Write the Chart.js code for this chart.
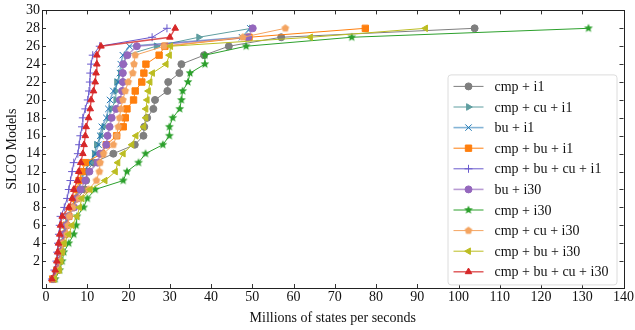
<!DOCTYPE html>
<html>
<head>
<meta charset="utf-8">
<script src="https://cdn.jsdelivr.net/npm/chart.js@4/dist/chart.umd.min.js"></script>
<style>
    html, body { margin: 0; padding: 0; background: #fff; }
    #wrap { width: 635px; height: 330px; }
</style>
</head>
<body>
<div id="wrap"><canvas id="grafico" width="635" height="330"></canvas></div>
<script>
// Modelos (eixo y) e ticks
const modelos = [0, 1, 2, 3, 4, 5, 6, 7, 8, 9, 10, 11, 12, 13, 14, 15, 16, 17, 18, 19, 20, 21, 22, 23, 24, 25, 26, 27, 28];
const yTicks = [2, 4, 6, 8, 10, 12, 14, 16, 18, 20, 22, 24, 26, 28, 30];
const xTicks = [0, 10, 20, 30, 40, 50, 60, 70, 80, 90, 100, 110, 120, 130, 140];

const rotulos = ['cmp + i1', 'cmp + cu + i1', 'bu + i1', 'cmp + bu + i1', 'cmp + bu + cu + i1',
    'bu + i30', 'cmp + i30', 'cmp + cu + i30', 'cmp + bu + i30', 'cmp + bu + cu + i30'];

// Milhões de estados por segundo, um valor por modelo
const cmpI1 = [1.8, 2.8, 3.3, 3.6, 4.0, 4.6, 5.0, 5.5, 6.5, 7.5, 9.4, 9.7, 9.8, 11.5, 16.3, 21.5, 23.6, 23.8, 24.5, 26.0, 26.4, 29.4, 29.6, 32.3, 32.8, 38.3, 44.3, 57.0, 103.9];
const cmpCuI1 = [1.7, 2.6, 3.1, 3.4, 3.7, 4.3, 4.7, 5.2, 6.5, 7.3, 8.0, 8.4, 9.0, 10.8, 11.7, 12.2, 13.3, 14.0, 15.2, 15.8, 16.9, 16.9, 17.1, 18.0, 18.8, 19.4, 26.7, 37.0, 49.8];
const buI1 = [1.6, 2.5, 3.0, 3.3, 3.6, 4.2, 4.5, 5.0, 6.3, 7.0, 7.7, 8.6, 9.3, 10.5, 11.9, 12.7, 13.1, 13.5, 14.6, 15.1, 15.5, 16.3, 17.5, 17.9, 18.1, 18.6, 20.2, 47.5, 49.5];
const cmpBuI1 = [1.6, 2.6, 3.0, 3.5, 3.8, 4.5, 4.8, 5.5, 6.2, 7.0, 7.5, 8.0, 8.7, 9.5, 13.5, 14.6, 17.1, 18.7, 19.2, 19.6, 21.2, 21.6, 23.2, 23.7, 24.2, 27.4, 28.8, 49.2, 77.4];
const cmpBuCuI1 = [1.4, 2.0, 2.5, 2.7, 2.9, 3.1, 3.3, 3.5, 4.4, 5.1, 5.5, 5.9, 6.3, 6.7, 7.7, 8.0, 8.3, 8.7, 8.9, 9.5, 10.1, 10.4, 10.6, 10.7, 10.9, 11.3, 13.0, 25.7, 29.3];
const buI30 = [1.8, 2.7, 3.1, 3.5, 3.8, 4.4, 4.9, 5.4, 6.8, 7.5, 8.3, 9.5, 10.5, 12.5, 13.1, 14.6, 14.9, 15.4, 15.9, 17.0, 17.9, 18.4, 18.6, 18.6, 18.7, 19.7, 22.0, 49.0, 50.1];
const cmpI30 = [2.2, 3.3, 3.9, 4.3, 5.5, 6.7, 7.3, 7.5, 9.1, 10.0, 11.9, 18.7, 19.6, 22.4, 24.1, 28.3, 29.9, 29.9, 30.7, 32.4, 32.8, 33.1, 34.4, 34.9, 38.5, 38.5, 48.5, 74.1, 131.5];
const cmpCuI30 = [1.8, 3.0, 3.4, 3.8, 4.0, 5.0, 5.3, 5.6, 6.5, 8.0, 10.3, 12.2, 12.9, 13.1, 13.9, 16.3, 17.1, 17.5, 17.8, 18.1, 18.6, 19.2, 19.9, 21.0, 21.3, 21.6, 28.6, 47.7, 58.0];
const cmpBuI30 = [2.0, 3.2, 3.6, 3.9, 4.4, 5.5, 6.3, 7.5, 8.1, 8.7, 10.7, 14.3, 16.8, 17.4, 18.7, 20.8, 21.8, 23.7, 24.2, 24.2, 24.5, 24.8, 25.2, 25.8, 29.1, 29.9, 30.2, 64.1, 92.0];
const cmpBuCuI30 = [1.4, 2.2, 2.6, 2.8, 3.0, 3.3, 3.5, 3.9, 5.5, 6.3, 6.7, 7.6, 7.9, 8.4, 8.9, 9.2, 9.5, 9.7, 10.3, 10.7, 10.9, 11.5, 11.9, 12.1, 12.3, 12.3, 13.3, 30.0, 31.3];

const series = [cmpI1, cmpCuI1, buI1, cmpBuI1, cmpBuCuI1, buI30, cmpI30, cmpCuI30, cmpBuI30, cmpBuCuI30];

// Marcadores desenhados à mão (estrela e pentágono)
function criarMarcador(cor, tipo, r) {
    const c = document.createElement('canvas');
    const s = Math.ceil(2 * r + 2);
    c.width = s; c.height = s;
    const g = c.getContext('2d');
    const cx = s / 2, cy = s / 2;
    const pontas = tipo === 'estrela' ? 10 : 5;
    g.beginPath();
    for (let i = 0; i < pontas; i++) {
        const ang = -Math.PI / 2 + i * 2 * Math.PI / pontas;
        const raio = (tipo === 'estrela' && i % 2 === 1) ? r * 0.45 : r;
        const px = cx + raio * Math.cos(ang), py = cy + raio * Math.sin(ang);
        if (i === 0) g.moveTo(px, py); else g.lineTo(px, py);
    }
    g.closePath();
    g.fillStyle = cor;
    g.fill();
    return c;
}

const estilos = [
    { cor: '#7f7f7f', linha: '#7f7f7f', largura: 1, ponto: 'circle', raio: 3.5, rot: 0 },
    { cor: '#5f9ea0', linha: '#5f9ea0', largura: 1, ponto: 'triangle', raio: 3.8, rot: 90 },
    { cor: '#1f77b4', linha: 'rgba(31,119,180,0.55)', largura: 1.6, ponto: 'crossRot', raio: 4.5, rot: 0 },
    { cor: '#ff7f0e', linha: '#ff7f0e', largura: 1, ponto: 'rect', raio: 4.5, rot: 0 },
    { cor: '#6a5acd', linha: '#6a5acd', largura: 1, ponto: 'cross', raio: 4, rot: 0 },
    { cor: '#9467bd', linha: 'rgba(148,103,189,0.65)', largura: 1.6, ponto: 'circle', raio: 3.5, rot: 0 },
    { cor: '#2ca02c', linha: '#2ca02c', largura: 1, ponto: criarMarcador('#2ca02c', 'estrela', 4.6), raio: 4, rot: 0 },
    { cor: '#f4a460', linha: '#f4a460', largura: 1, ponto: criarMarcador('#f4a460', 'pentagono', 4), raio: 4, rot: 0 },
    { cor: '#bcbd22', linha: '#bcbd22', largura: 1, ponto: 'triangle', raio: 3.8, rot: 270 },
    { cor: '#d62728', linha: 'rgba(214,39,40,0.8)', largura: 1.4, ponto: 'triangle', raio: 3.8, rot: 0 }
];

const datasets = series.map((valores, i) => ({
    label: rotulos[i],
    data: valores.map((v, k) => ({ x: v, y: modelos[k] })),
    borderColor: estilos[i].linha,
    borderWidth: estilos[i].largura,
    backgroundColor: estilos[i].cor,
    pointBackgroundColor: estilos[i].cor,
    pointBorderColor: estilos[i].cor,
    pointBorderWidth: 1,
    pointStyle: estilos[i].ponto,
    pointRadius: estilos[i].raio,
    pointRotation: estilos[i].rot,
    pointHoverRadius: estilos[i].raio,
    tension: 0,
    fill: false,
    order: series.length - i
}));

const fonte = '"Liberation Serif", "DejaVu Serif", serif';

// Ticks para dentro nos quatro lados + moldura
const molduraPlugin = {
    id: 'moldura',
    afterDraw(chart) {
        const { ctx, chartArea: a, scales } = chart;
        const tl = 4;
        ctx.save();
        ctx.strokeStyle = '#333';
        ctx.lineWidth = 1;
        ctx.beginPath();
        xTicks.forEach(v => {
            const px = Math.round(scales.x.getPixelForValue(v)) + 0.5;
            ctx.moveTo(px, a.bottom); ctx.lineTo(px, a.bottom - tl);
            ctx.moveTo(px, a.top); ctx.lineTo(px, a.top + tl);
        });
        yTicks.forEach(v => {
            const py = Math.round(scales.y.getPixelForValue(v)) + 0.5;
            ctx.moveTo(a.left, py); ctx.lineTo(a.left + tl, py);
            ctx.moveTo(a.right, py); ctx.lineTo(a.right - tl, py);
        });
        ctx.stroke();
        ctx.strokeStyle = '#222';
        ctx.strokeRect(Math.round(a.left) + 0.5, Math.round(a.top) + 0.5,
            Math.round(a.right - a.left), Math.round(a.bottom - a.top));
        ctx.restore();
    }
};

// Legenda no estilo matplotlib (linha + marcador)
const legendaPlugin = {
    id: 'legenda',
    afterDraw(chart) {
        const { ctx, chartArea: a } = chart;
        const x0 = a.right - 176, y0 = a.top + 64, w = 169, h = 210;
        ctx.save();
        ctx.fillStyle = 'rgba(255,255,255,0.85)';
        ctx.strokeStyle = '#dcdcdc';
        ctx.lineWidth = 1;
        ctx.beginPath();
        ctx.roundRect(x0 + 0.5, y0 + 0.5, w, h, 3);
        ctx.fill();
        ctx.stroke();
        ctx.font = '14px ' + fonte;
        ctx.textBaseline = 'middle';
        chart.data.datasets.forEach((ds, i) => {
            const yy = y0 + 12 + i * 20.6;
            ctx.strokeStyle = ds.borderColor;
            ctx.lineWidth = ds.borderWidth;
            ctx.beginPath();
            ctx.moveTo(x0 + 6, yy);
            ctx.lineTo(x0 + 36, yy);
            ctx.stroke();
            ctx.fillStyle = ds.pointBackgroundColor;
            ctx.strokeStyle = ds.pointBorderColor;
            ctx.lineWidth = 1;
            Chart.helpers.drawPoint(ctx, {
                pointStyle: ds.pointStyle, radius: ds.pointRadius,
                rotation: ds.pointRotation, borderWidth: 1
            }, x0 + 21, yy);
            ctx.fillStyle = '#111';
            ctx.fillText(ds.label, x0 + 47, yy + 1);
        });
        ctx.restore();
    }
};

Chart.defaults.font.family = fonte;
Chart.defaults.color = '#111';

new Chart(document.getElementById('grafico'), {
    type: 'line',
    data: { datasets },
    options: {
        responsive: false,
        animation: false,
        layout: { padding: { top: 9, right: 10, left: 0, bottom: 0 } },
        plugins: {
            legend: { display: false },
            tooltip: { enabled: false }
        },
        scales: {
            x: {
                type: 'linear',
                min: -1,
                max: 140,
                grid: { display: false, drawTicks: false },
                border: { display: false },
                afterBuildTicks: (s) => { s.ticks = xTicks.map(v => ({ value: v })); },
                afterFit: (s) => { s.height = 42; },
                ticks: { font: { size: 14 }, padding: 1, maxRotation: 0, autoSkip: false },
                title: { display: true, text: 'Millions of states per seconds', font: { size: 14 }, padding: { top: 2, bottom: 3 } }
            },
            y: {
                type: 'linear',
                min: -1,
                max: 30,
                grid: { display: false, drawTicks: false },
                border: { display: false },
                afterBuildTicks: (s) => { s.ticks = yTicks.map(v => ({ value: v })); },
                afterFit: (s) => { s.width = 42; },
                ticks: { font: { size: 14 }, padding: 2, autoSkip: false },
                title: { display: true, text: 'SLCO Models', font: { size: 14 }, padding: { top: 4, bottom: 2 } }
            }
        }
    },
    plugins: [molduraPlugin, legendaPlugin]
});
</script>
</body>
</html>
